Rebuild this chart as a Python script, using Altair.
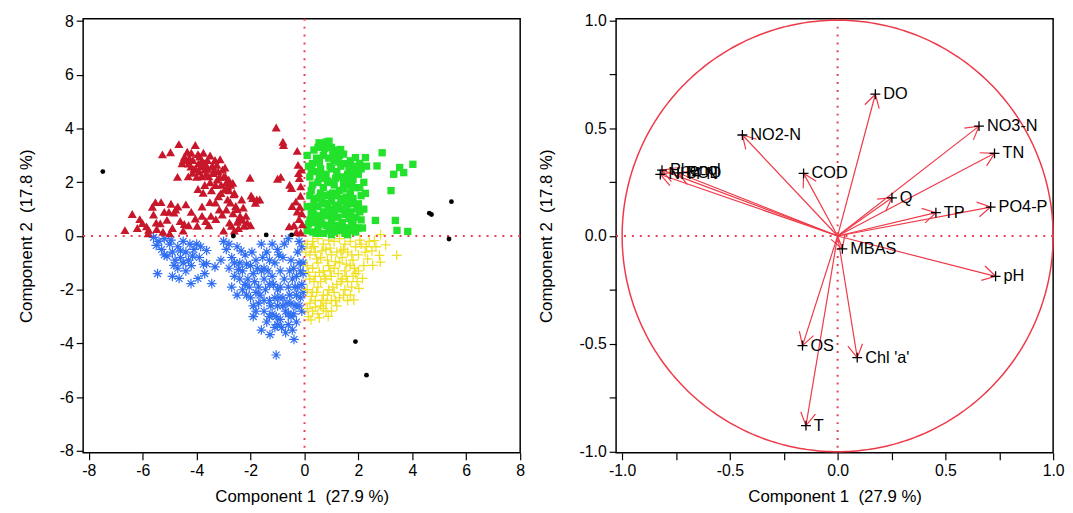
import altair as alt
import numpy as np
import pandas as pd

FONT = "Liberation Sans"
RED_LINE = "#ee3a48"
DOT_RED = "#e8424f"

# ---------------- Left panel: PCA scores (Component 1, Component 2) ----------------
red_pts = [(-6.66,0.22),(-6.39,0.82),(-6.11,0.63),(-6.01,0.48),(-5.86,0.36),(-5.78,0.23),(-5.64,1.09),(-5.53,1.26),
           (-5.48,0.26),(-5.32,1.26),(-5.35,0.47),(-5.25,0.16),(-5.27,3.04),(-5.03,0.90),(-4.97,3.12),(-4.84,0.87),
           (-4.78,0.99),(-4.71,2.20),(-4.66,3.42),(-4.61,0.56),(-4.54,2.71),(-4.49,2.83),(-4.46,0.45),(-4.40,1.18),
           (-4.35,3.14),(-4.31,2.22),(-4.27,2.90),(-4.21,2.59),(-4.14,2.83),(-4.05,3.39),(-4.02,2.47),(-3.98,0.38),
           (-3.93,2.71),(-3.89,2.96),(-3.82,2.22),(-3.80,0.75),(-3.76,1.61),(-3.72,2.71),(-3.70,2.47),(-3.66,0.56),
           (-3.60,2.83),(-3.55,2.22),(-3.51,1.26),(-3.47,0.75),(-3.44,2.59),(-3.38,2.34),(-3.32,2.83),(-3.29,0.63),
           (-3.24,2.10),(-3.19,1.48),(-3.16,0.99),(-3.13,2.86),(-3.09,1.91),(-3.04,2.47),(-3.00,0.20),(-2.96,1.73),
           (-2.94,2.22),(-2.90,0.99),(-2.85,1.36),(-2.81,2.10),(-2.78,0.50),(-2.74,1.91),(-2.71,0.38),(-2.66,1.98),
           (-2.62,1.55),(-2.55,1.12),(-2.49,0.53),(-2.43,0.63),(-2.39,0.75),(-2.33,1.36),(-2.27,1.06),(-2.24,0.38),
           (-2.17,0.75),(-2.12,0.50),(-2.02,2.17),(-1.98,1.51),(-1.92,1.41),(-1.82,1.24),(-1.77,1.36),(-1.66,1.36),
           (-1.05,4.04),(-0.80,3.51),(-0.78,3.39),(-1.00,2.13),(-0.88,2.20),(-0.55,1.91),(-0.48,1.79),(-0.27,3.17),
           (-0.24,2.65),(-0.22,2.34),(-0.19,2.16),(-0.14,1.85),(-0.32,1.28),(-0.27,0.91),(-0.17,1.09),(-0.20,0.63),
           (-0.39,0.40),(-0.57,0.36),(-0.14,0.13),(-0.08,0.44),(-0.11,2.47),(-0.46,1.12),
           (-4.10,2.50),(-3.90,2.40),(-3.60,2.50),(-3.40,2.60),(-3.20,2.40),(-3.00,2.20),(-3.50,2.00),(-3.80,2.80),
           (-4.30,2.70),(-3.30,1.90),(-2.90,2.00),(-3.70,1.90),(-4.00,2.20),(-2.60,1.60),(-2.50,1.00),(-2.30,0.60),
           (-2.00,0.40),(-2.60,0.20),(-4.90,0.30),(-5.10,0.60),(-5.50,0.50),(-4.70,1.10),(-4.20,0.90),(-4.50,0.20),
           (-5.80,0.10),(-6.20,0.30),(-3.95,3.05),(-3.75,3.10),(-3.50,3.00),(-3.85,2.60),(-3.65,2.30),(-4.15,2.35),
           (-3.25,2.65),(-2.95,2.55),(-3.45,1.70),(-3.10,1.60),(-2.80,1.70),(-3.05,0.80),(-2.65,0.85),(-3.55,0.40),
           (-4.05,0.65),(-5.00,0.10),(-4.30,0.40),(-0.10,0.85),(-0.30,0.15),(-0.15,1.50),
           (-4.45,2.95),(-4.20,3.10),(-3.65,2.65),(-3.35,2.45),(-3.15,2.20),(-2.85,1.85),(-3.95,1.75),(-3.30,1.25),
           (-2.75,1.25),(-2.45,0.30),(-3.80,1.10),(-5.60,0.80),(-4.95,1.20),(-5.20,0.90)]

green_pts = [(0.15,2.6),(0.3,2.7),(0.5,3.3),(0.6,3.4),(0.8,3.5),(1.0,3.3),(0.7,3.0),(0.9,2.9),(1.1,2.8),(1.3,3.0),
             (1.5,2.7),(1.7,2.8),(1.9,2.6),(2.1,2.5),(2.3,2.6),(0.2,2.2),(0.4,2.4),(0.6,2.5),(0.8,2.3),(1.0,2.5),
             (1.2,2.4),(1.4,2.2),(1.6,2.3),(1.8,2.1),(2.0,2.3),(2.2,2.0),(0.3,1.9),(0.5,2.0),(0.7,1.8),(0.9,2.0),
             (1.1,1.9),(1.3,1.7),(1.5,1.9),(1.7,1.6),(1.9,1.8),(2.1,1.5),(0.2,1.5),(0.4,1.4),(0.6,1.6),(0.8,1.5),
             (1.0,1.3),(1.2,1.5),(1.4,1.3),(1.6,1.2),(1.8,1.4),(2.0,1.2),(2.2,1.0),(0.1,1.1),(0.3,1.0),(0.5,1.1),
             (0.7,0.9),(0.9,1.0),(1.1,0.8),(1.3,1.0),(1.5,0.8),(1.7,0.9),(1.9,0.7),(2.1,0.6),(0.2,0.6),(0.4,0.5),
             (0.6,0.7),(0.8,0.4),(1.0,0.6),(1.2,0.4),(1.4,0.5),(1.6,0.3),(1.8,0.5),(2.0,0.3),(0.1,0.2),(0.3,0.15),
             (0.5,0.3),(0.7,0.1),(0.9,0.2),(1.1,0.15),(1.3,0.2),(1.5,0.1),(1.7,0.2),(1.9,0.15),(0.25,1.7),(1.05,1.6),
             (1.35,2.6),(0.45,2.9),(0.85,1.2),(1.55,1.45),(1.2,3.2),(0.54,3.47),(0.91,3.53),(1.34,3.22),(2.88,3.10),
             (4.02,2.67),(3.53,2.55),(3.68,2.36),(3.31,2.30),(3.21,1.69),(2.63,0.58),(3.37,0.58),(3.43,0.21),
             (3.83,0.17),(2.69,2.61),(2.26,2.92),(1.89,2.92),(2.26,1.59),(0.35,0.8),(0.65,1.3),(1.25,1.15),
             (1.45,1.75),(0.95,2.6),(0.75,2.15),(1.65,2.05),(0.15,0.45),(2.05,0.9),(1.75,0.55),
             (0.1,3.0),(0.35,3.2),(0.55,2.75),(0.75,3.25),(1.05,3.05),(1.25,2.75),(1.45,3.05),(1.65,2.55),
             (1.85,2.35),(2.05,2.7),(0.25,2.45),(0.55,2.25),(0.85,2.05),(1.15,2.15),(1.45,2.0),(1.75,1.85),
             (2.05,1.8),(0.35,1.25),(0.55,1.45),(0.75,1.2),(0.95,1.55),(1.15,1.05),(1.35,1.4),(1.55,1.05),
             (1.75,1.2),(1.95,1.0),(0.25,0.85),(0.45,0.75),(0.65,0.45),(0.85,0.75),(1.05,0.35),(1.25,0.7),
             (1.45,0.3),(1.65,0.65),(1.85,0.3),(2.15,0.3),(0.45,0.1),(1.0,0.05),(1.6,0.05)]

blue_pts = [(-5.6,-0.05),(-5.4,-0.2),(-5.2,-0.1),(-5.0,-0.3),(-5.3,-0.5),(-4.9,-0.6),(-4.7,-0.4),(-4.5,-0.2),
            (-4.4,-0.6),(-4.6,-0.8),(-4.8,-0.9),(-4.3,-0.9),(-4.1,-0.5),(-4.0,-0.3),(-4.2,-1.1),(-4.5,-1.0),
            (-5.1,-0.75),(-3.9,-0.8),(-5.45,-1.40),(-4.84,-1.09),(-4.65,-1.58),(-4.21,-1.77),(-3.95,-1.58),
            (-3.63,-0.54),(-3.63,-1.03),(-3.44,-1.77),(-3.32,-1.15),(-3.70,-1.40),(-4.9,-1.5),(-4.4,-1.3),
            (-3.0,-0.2),(-2.9,-0.5),(-2.7,-0.8),(-2.8,-1.2),(-2.6,-1.5),(-2.5,-0.4),(-2.4,-1.0),(-2.3,-1.3),
            (-2.2,-0.7),(-2.1,-1.6),(-2.0,-1.1),(-1.9,-1.4),(-1.8,-0.9),(-1.7,-1.9),(-2.5,-2.2),(-2.3,-2.0),
            (-2.0,-2.3),(-1.9,-2.6),(-1.6,-0.3),(-1.5,-1.2),(-1.4,-0.6),(-1.3,-1.8),(-1.2,-0.3),(-1.1,-1.0),
            (-1.0,-0.5),(-0.9,-1.3),(-0.8,-0.8),(-1.7,-2.5),(-1.5,-2.8),(-1.4,-3.2),(-1.3,-2.4),(-1.2,-2.9),
            (-1.1,-3.4),(-1.0,-2.6),(-0.9,-3.1),(-0.8,-2.3),(-0.7,-2.8),(-0.6,-3.3),(-0.5,-2.5),(-0.4,-2.9),
            (-0.3,-2.2),(-0.2,-2.6),(-1.6,-3.5),(-1.28,-3.67),(-0.39,-3.85),(-1.05,-4.43),(-0.7,-3.6),(-1.0,-2.0),
            (-0.6,-1.9),(-2.7,-1.9),(-3.1,-0.9),(-0.5,-0.9),(-0.4,-1.2),(-0.3,-1.5),(-0.2,-1.0),(-0.1,-1.8),
            (-0.25,-0.6),(-0.15,-1.3),(-0.35,-1.9),(-0.05,-2.1),(-0.1,-0.4),(-0.45,-1.6),(-0.05,-1.4),(-0.6,-0.1),
            (-0.55,-1.3),(-0.1,-2.8),(-2.2,-1.8),(-1.8,-2.1),(-1.5,-1.6),(-1.1,-2.3),(-0.8,-2.6),(-0.5,-3.0),
            (-2.4,-1.6),(-1.6,-1.3),(-1.2,-1.5),(-0.9,-1.9),(-0.3,-3.2),(-1.9,-3.0),
            (-2.8,-0.3),(-2.6,-1.0),(-2.45,-1.25),(-2.35,-0.55),(-2.15,-1.05),(-2.05,-1.9),(-1.95,-0.6),
            (-1.85,-1.7),(-1.75,-1.2),(-1.65,-2.2),(-1.55,-0.8),(-1.45,-2.0),(-1.35,-1.3),(-1.25,-2.6),
            (-1.15,-1.8),(-1.05,-3.0),(-0.95,-2.3),(-0.85,-3.4),(-0.75,-1.6),(-0.65,-2.5),(-0.55,-2.2),
            (-0.45,-3.5),(-0.35,-2.6),(-0.25,-1.9),(-0.15,-2.3),(-0.05,-1.0),(-0.2,-0.2),(-0.75,-0.3),
            (-1.3,-0.9),(-0.95,-0.7),(-5.5,-0.35),(-5.2,-0.7),(-4.95,-0.15),(-4.6,-0.55),(-4.25,-0.3),
            (-4.15,-0.75),(-3.85,-0.4),(-4.7,-1.2),(-3.75,-1.05),(-1.0,-3.3),(-1.3,-3.0),(-0.6,-2.9),
            (-1.5,-2.4),(-2.15,-2.2),(-1.8,-2.8)]

yellow_pts = [(0.1,-0.3),(0.3,-0.2),(0.5,-0.1),(0.7,-0.3),(0.9,-0.15),(1.1,-0.2),(1.3,-0.1),(1.5,-0.3),(1.7,-0.2),
              (1.9,-0.4),(2.1,-0.3),(0.2,-0.7),(0.4,-0.6),(0.6,-0.8),(0.8,-0.5),(1.0,-0.7),(1.2,-0.6),(1.4,-0.8),
              (1.6,-0.6),(1.8,-0.9),(2.0,-0.7),(0.1,-1.1),(0.3,-1.2),(0.5,-1.0),(0.7,-1.3),(0.9,-1.1),(1.1,-1.2),
              (1.3,-1.0),(1.5,-1.3),(1.7,-1.1),(1.9,-1.4),(0.2,-1.6),(0.4,-1.5),(0.6,-1.7),(0.8,-1.6),(1.0,-1.5),
              (1.2,-1.8),(1.4,-1.6),(1.6,-1.7),(1.8,-1.5),(0.1,-2.0),(0.3,-2.1),(0.5,-1.9),(0.7,-2.2),(0.9,-2.0),
              (1.1,-2.1),(1.3,-2.3),(1.5,-2.0),(1.7,-2.2),(0.2,-2.5),(0.4,-2.4),(0.6,-2.6),(0.8,-2.5),(1.0,-2.4),
              (1.2,-2.6),(0.3,-2.8),(0.5,-2.9),(0.7,-2.7),(0.15,-3.0),(0.55,-1.35),(1.25,-1.4),(0.85,-0.9),
              (2.82,0.05),(2.59,-0.17),(3.01,-0.33),(3.42,-0.72),(2.78,-0.72),(2.53,-1.09),(2.81,-0.97),(2.34,-0.85),
              (2.15,-1.58),(2.02,-1.95),(1.83,-2.38),(0.88,-2.99),(0.24,-3.12),(2.3,-0.4),(2.5,-0.55),(2.2,-1.1),
              (1.6,-2.4),(1.0,-2.8),(0.35,-0.4),(1.45,-0.5),
              (0.05,-0.6),(0.25,-0.45),(0.45,-0.85),(0.65,-0.55),(0.95,-0.45),(1.15,-0.95),(1.35,-0.55),
              (1.55,-1.05),(1.75,-0.7),(0.15,-1.35),(0.35,-1.7),(0.75,-1.5),(0.95,-1.3),(1.05,-1.9),(1.35,-1.7),
              (1.55,-1.5),(1.75,-1.9),(1.95,-1.7),(0.25,-2.25),(0.45,-2.1),(0.65,-2.4),(0.85,-2.2),(1.15,-2.4),
              (1.45,-2.2),(0.4,-2.65),(0.8,-2.8),(0.1,-2.7),(2.05,-0.15),(2.25,-0.6),(2.4,-0.2),(2.65,-0.4),
              (1.85,-1.2),(2.0,-1.3),(0.55,-3.05)]

black_pts = [(-7.48,2.40),(-2.64,0.0),(-1.42,0.04),(-0.48,0.04),(4.63,0.85),(4.71,0.80),(5.45,1.28),
             (5.36,-0.11),(1.89,-3.93),(2.30,-5.18)]

# ---------------- Right panel: variable loadings ----------------
var_names = ["DO", "NO2-N", "NO3-N", "TN", "COD", "Q", "TP", "PO4-P", "MBAS", "pH",
             "OS", "Chl 'a'", "T", "Phenol", "NH4-N", "BOD"]
load_pc1 = [0.175, -0.442, 0.656, 0.728, -0.158, 0.252, 0.456, 0.710, 0.022, 0.733,
            -0.163, 0.091, -0.147, -0.815, -0.823, -0.740]
load_pc2 = [0.657, 0.468, 0.509, 0.383, 0.290, 0.177, 0.108, 0.134, -0.060, -0.187,
            -0.508, -0.564, -0.879, 0.305, 0.285, 0.292]

LEFT_X_DOMAIN = [-8.21, 8.0]
LEFT_Y_DOMAIN = [-8.07, 8.09]
RIGHT_X_DOMAIN = [-1.028, 1.0]
RIGHT_Y_DOMAIN = [-1.005, 1.007]
W, H = 442, 439


def pts_df(pts):
    return pd.DataFrame({"x": [p[0] for p in pts], "y": [p[1] for p in pts]})


int_label = "datum.value < 0 ? '-' + format(-datum.value, 'd') : format(datum.value, 'd')"
dec_label = ("abs(datum.value * 2 - round(datum.value * 2)) < 0.001 ? "
             "(datum.value < 0 ? '-' : '') + format(abs(datum.value), '.1f') : ''")

XTITLE = "Component 1\u00a0 (27.9 %)"
YTITLE = "Component 2\u00a0 (17.8 %)"


def lx():
    return alt.X("x:Q", scale=alt.Scale(domain=LEFT_X_DOMAIN, nice=False, zero=False),
                 axis=alt.Axis(values=list(range(-8, 9, 2)), labelExpr=int_label, title=XTITLE,
                               titlePadding=10))


def ly():
    return alt.Y("y:Q", scale=alt.Scale(domain=LEFT_Y_DOMAIN, nice=False, zero=False),
                 axis=alt.Axis(values=list(range(-8, 9, 2)), labelExpr=int_label, title=YTITLE,
                               titlePadding=24))


minor = [-1.0, -0.75, -0.5, -0.25, 0.0, 0.25, 0.5, 0.75, 1.0]


def rx(field="x"):
    return alt.X(f"{field}:Q", scale=alt.Scale(domain=RIGHT_X_DOMAIN, nice=False, zero=False),
                 axis=alt.Axis(values=minor, labelExpr=dec_label, title=XTITLE, titlePadding=10))


def ry(field="y"):
    return alt.Y(f"{field}:Q", scale=alt.Scale(domain=RIGHT_Y_DOMAIN, nice=False, zero=False),
                 axis=alt.Axis(values=minor, labelExpr=dec_label, title=YTITLE, titlePadding=24))


zero_df = pd.DataFrame({"x": [0.0], "y": [0.0]})

ASTERISK = "M -1 0 L 1 0 M 0 -1 L 0 1 M -0.7 -0.7 L 0.7 0.7 M -0.7 0.7 L 0.7 -0.7"
PLUS = "M -1 0 L 1 0 M 0 -1 L 0 1"

l_vrule = alt.Chart(zero_df).mark_rule(color=DOT_RED, strokeDash=[2, 6], strokeWidth=2).encode(x=lx())
l_hrule = alt.Chart(zero_df).mark_rule(color=DOT_RED, strokeDash=[2, 6], strokeWidth=2).encode(y=ly())

blue = alt.Chart(pts_df(blue_pts)).mark_point(shape=ASTERISK, filled=False, size=95, strokeWidth=1.2,
                                                color="#2f6ef2", opacity=1).encode(x=lx(), y=ly())
yellow = alt.Chart(pts_df(yellow_pts)).mark_point(shape=PLUS, filled=False, size=100, strokeWidth=1.3,
                                                    color="#f0e024", opacity=1).encode(x=lx(), y=ly())
green = alt.Chart(pts_df(green_pts)).mark_point(shape="square", filled=True, size=55,
                                                  color="#22e22b", opacity=1).encode(x=lx(), y=ly())
red = alt.Chart(pts_df(red_pts)).mark_point(shape="triangle-up", filled=True, size=85,
                                              color="#c8172a", opacity=1).encode(x=lx(), y=ly())
black = alt.Chart(pts_df(black_pts)).mark_point(shape="circle", filled=True, size=24,
                                                  color="black", opacity=1).encode(x=lx(), y=ly())

left = alt.layer(l_vrule, l_hrule, blue, yellow, green, red, black).properties(width=W, height=H)

# right panel
circ_t = np.linspace(0, 2 * np.pi, 361)
circle_df = pd.DataFrame({"x": np.cos(circ_t), "y": np.sin(circ_t), "i": np.arange(361)})

ld = pd.DataFrame({"name": var_names, "x": load_pc1, "y": load_pc2})
ld["ox"] = 0.0
ld["oy"] = 0.0
ld["ang"] = (np.degrees(np.arctan2(-ld["y"], ld["x"])) + 360) % 360

circle = alt.Chart(circle_df).mark_line(color=RED_LINE, strokeWidth=1.5).encode(
    x=rx(), y=ry(), order="i:Q")
r_vrule = alt.Chart(zero_df).mark_rule(color=DOT_RED, strokeDash=[2, 6], strokeWidth=2).encode(x=rx())
r_hrule = alt.Chart(zero_df).mark_rule(color=DOT_RED, strokeDash=[2, 6], strokeWidth=2).encode(y=ry())
shafts = alt.Chart(ld).mark_rule(color=RED_LINE, strokeWidth=1.2).encode(
    x=rx("ox"), y=ry("oy"), x2="x:Q", y2="y:Q")
heads = alt.Chart(ld).mark_point(shape="M -0.866 -0.5 L 0 0 L -0.866 0.5", filled=False, size=900,
                                 strokeWidth=1.2, color=RED_LINE, opacity=1).encode(
    x=rx(), y=ry(), angle=alt.Angle("ang:Q", scale=None))
plus = alt.Chart(ld).mark_point(shape=PLUS, filled=False, size=100, strokeWidth=1.3,
                                color="black", opacity=1).encode(x=rx(), y=ry())
labels = alt.Chart(ld).mark_text(align="left", baseline="middle", dx=8, fontSize=16.5, font=FONT,
                                 color="black").encode(x=rx(), y=ry(), text="name:N")

right = alt.layer(circle, r_vrule, r_hrule, shafts, heads, plus, labels).properties(width=W, height=H)

chart = alt.hconcat(left, right, spacing=10).properties(
    padding={"left": 9, "top": 0, "right": 0, "bottom": 0}
).configure_view(stroke="black", strokeWidth=1.5).configure_axis(
    grid=False, domain=False, labelFont=FONT, titleFont=FONT, labelFontSize=16, titleFontSize=17,
    titleFontWeight="normal", labelColor="black", titleColor="black", tickColor="black",
    tickSize=7, tickWidth=1.2, labelPadding=3, labelFlush=False, labelOverlap=False
).configure_axisY(labelAngle=0)

chart.save("out.html", embed_options={"renderer": "svg", "actions": False})
